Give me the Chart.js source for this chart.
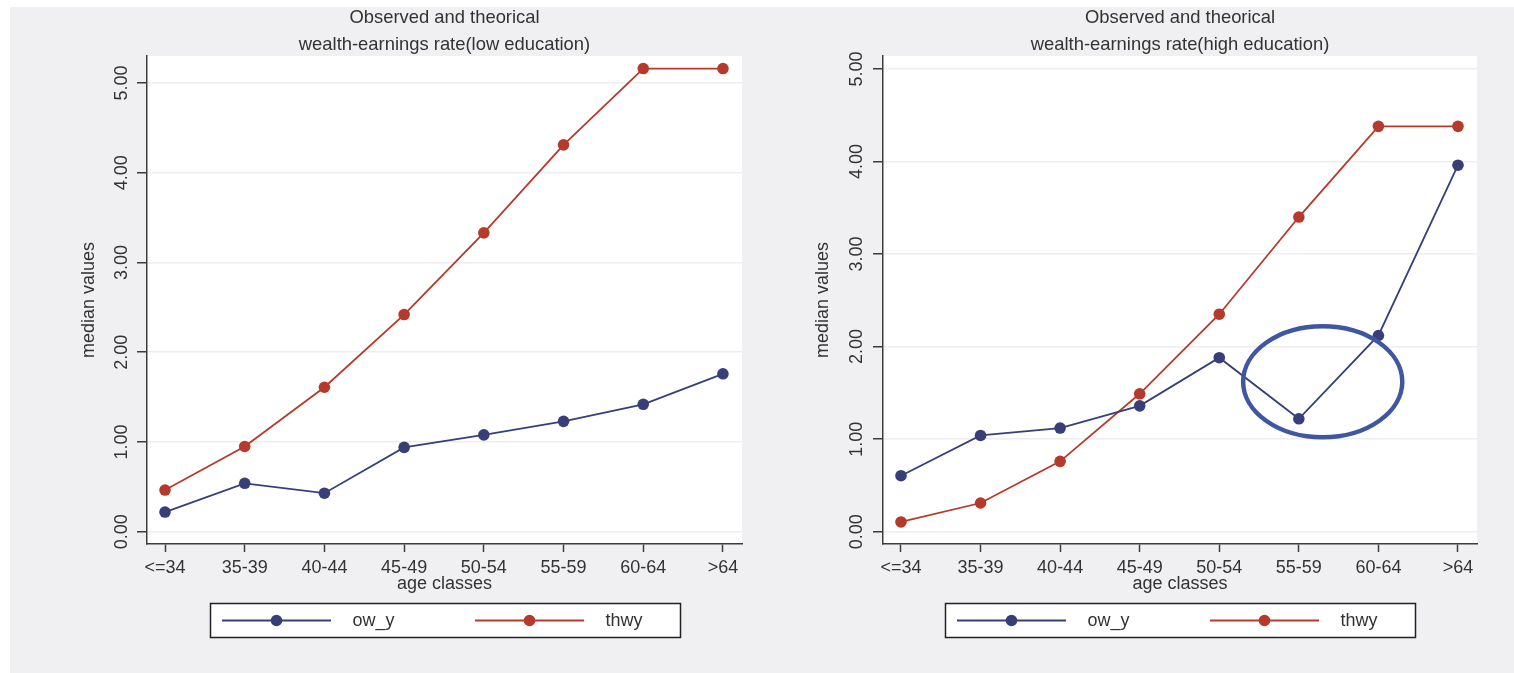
<!DOCTYPE html>
<html>
<head>
<meta charset="utf-8">
<script src="https://cdn.jsdelivr.net/npm/chart.js@4/dist/chart.umd.min.js"></script>
<style>
  html, body { margin: 0; padding: 0; background: #ffffff; width: 1514px; height: 673px; overflow: hidden; }
  #bg { position: absolute; left: 10px; top: 7px; width: 1504px; height: 666px; background: #f0f0f3; }
  canvas { position: absolute; top: 0; }
  #c1 { left: 0; }
  #c2 { left: 757px; }
</style>
</head>
<body>
<div id="bg"></div>
<canvas id="c1" width="757" height="673"></canvas>
<canvas id="c2" width="757" height="673"></canvas>
<script>
// ---- data ----
const ageClasses = ['<=34', '35-39', '40-44', '45-49', '50-54', '55-59', '60-64', '>64'];
const lowOwY   = [0.22, 0.54, 0.43, 0.94, 1.08, 1.23, 1.42, 1.76];
const lowThwy  = [0.465, 0.95, 1.61, 2.42, 3.33, 4.31, 5.16, 5.16];
const highOwY  = [0.605, 1.04, 1.12, 1.36, 1.88, 1.22, 2.12, 3.96];
const highThwy = [0.105, 0.31, 0.76, 1.49, 2.35, 3.40, 4.38, 4.38];
const yTickValues = [0, 1, 2, 3, 4, 5];
const seriesNames = ['ow_y', 'thwy'];
const titleLow  = ['Observed and theorical', 'wealth-earnings rate(low education)'];
const titleHigh = ['Observed and theorical', 'wealth-earnings rate(high education)'];
const xTitle = 'age classes';
const yTitle = 'median values';
// highlighted region on the high-education chart (data units)
const highlight = { x: 5.3, y: 1.62, rx: 1.0, ry: 0.6 };

// ---- styles ----
const BLUE = '#373f78';
const RED = '#b53a2b';
const RING = '#3f57a0';
const TEXT = '#333333';
const AXIS = '#3c3c3c';
const GRID = '#eeeef1';
const FONT = 'Liberation Sans, Arial, sans-serif';

const toPts = arr => arr.map((v, i) => ({ x: i, y: v }));

const plotBg = {
  id: 'plotBg',
  beforeDraw(chart) {
    const { ctx, chartArea: a } = chart;
    ctx.save();
    ctx.fillStyle = '#ffffff';
    ctx.fillRect(a.left, a.top, a.right - a.left, a.bottom - a.top);
    ctx.restore();
  }
};

const boxLegend = {
  id: 'boxLegend',
  afterDraw(chart) {
    const { ctx, chartArea: a } = chart;
    const w = 470, h = 34;
    const cx = (a.left + a.right) / 2;
    const left = Math.round(cx - w / 2) + 0.5;
    const top = a.bottom + 59.5;
    ctx.save();
    ctx.fillStyle = '#ffffff';
    ctx.fillRect(left, top, w, h);
    ctx.strokeStyle = '#222222';
    ctx.lineWidth = 1.5;
    ctx.strokeRect(left, top, w, h);
    const cy = top + h / 2;
    const items = [
      { off: 0, ds: chart.data.datasets[0] },
      { off: 253, ds: chart.data.datasets[1] }
    ];
    items.forEach(it => {
      const col = it.ds.borderColor;
      ctx.strokeStyle = col;
      ctx.lineWidth = 1.8;
      ctx.beginPath();
      ctx.moveTo(left + 11.5 + it.off, cy);
      ctx.lineTo(left + 120.5 + it.off, cy);
      ctx.stroke();
      ctx.fillStyle = col;
      ctx.beginPath();
      ctx.arc(left + 66 + it.off, cy, 5.8, 0, Math.PI * 2);
      ctx.fill();
      ctx.fillStyle = TEXT;
      ctx.font = '18px ' + FONT;
      ctx.textBaseline = 'middle';
      ctx.textAlign = 'left';
      ctx.fillText(it.ds.label, left + 142 + it.off, cy + 1);
    });
    ctx.restore();
  }
};

const ring = {
  id: 'ring',
  afterDatasetsDraw(chart, args, opts) {
    if (!opts || !opts.show) return;
    const { ctx, scales: { x, y } } = chart;
    const cx = x.getPixelForValue(highlight.x);
    const cy = y.getPixelForValue(highlight.y);
    const rx = x.getPixelForValue(highlight.x + highlight.rx) - cx;
    const ry = cy - y.getPixelForValue(highlight.y + highlight.ry);
    ctx.save();
    ctx.strokeStyle = RING;
    ctx.lineWidth = 4.5;
    ctx.beginPath();
    ctx.ellipse(cx, cy, rx, ry, 0, 0, Math.PI * 2);
    ctx.stroke();
    ctx.restore();
  }
};

function makeChart(id, cfg) {
  return new Chart(document.getElementById(id), {
    type: 'line',
    data: {
      datasets: [
        { label: seriesNames[0], data: toPts(cfg.a), borderColor: BLUE, backgroundColor: BLUE,
          pointBackgroundColor: BLUE, borderWidth: 1.8, pointRadius: 5.8, pointBorderWidth: 0, tension: 0 },
        { label: seriesNames[1], data: toPts(cfg.b), borderColor: RED, backgroundColor: RED,
          pointBackgroundColor: RED, borderWidth: 1.8, pointRadius: 5.8, pointBorderWidth: 0, tension: 0 }
      ]
    },
    options: {
      responsive: false,
      animation: false,
      devicePixelRatio: 1,
      layout: { padding: { left: 0, right: cfg.padRight, top: 0, bottom: 69 } },
      plugins: {
        legend: { display: false },
        tooltip: { enabled: false },
        title: {
          display: true, text: cfg.title, color: TEXT, fullSize: false,
          font: { family: FONT, size: 18.4, weight: 'normal', lineHeight: 27 / 18.4 },
          padding: { top: 4.5, bottom: -2.5 }
        },
        ring: { show: !!cfg.ring }
      },
      scales: {
        x: {
          type: 'linear', min: -0.226, max: 7.239,
          afterBuildTicks: s => { s.ticks = ageClasses.map((_, i) => ({ value: i })); },
          afterFit: s => { s.height = 60; },
          ticks: { autoSkip: false, color: TEXT, padding: 5,
                   font: { family: FONT, size: 18 }, callback: v => ageClasses[v] },
          grid: { drawOnChartArea: false, drawTicks: true, tickLength: 8, tickColor: AXIS, tickWidth: 1.5 },
          border: { display: true, color: AXIS, width: 1.5 },
          title: { display: true, text: xTitle, color: TEXT, font: { family: FONT, size: 18 },
                   padding: { top: 0, bottom: 8.8 } }
        },
        y: {
          type: 'linear', min: cfg.ymin, max: cfg.ymax,
          afterBuildTicks: s => { s.ticks = yTickValues.map(v => ({ value: v })); },
          afterFit: s => { s.width = cfg.yWidth; },
          ticks: { color: TEXT, minRotation: 90, maxRotation: 90, crossAlign: 'center',
                   padding: cfg.yTickPad, font: { family: FONT, size: 18 },
                   callback: v => Number(v).toFixed(2) },
          grid: { color: GRID, lineWidth: 1.5, drawTicks: true, tickLength: 10, tickColor: AXIS, tickWidth: 1.5 },
          border: { display: true, color: AXIS, width: 1.5 },
          title: { display: true, text: yTitle, color: TEXT, font: { family: FONT, size: 18 },
                   padding: { top: cfg.yTitlePad, bottom: 0 } }
        }
      }
    },
    plugins: [plotBg, boxLegend, ring]
  });
}

makeChart('c1', { a: lowOwY, b: lowThwy, title: titleLow, ymin: -0.136, ymax: 5.30,
                  yWidth: 147, padRight: 15, yTickPad: -2.5, yTitlePad: 78, ring: false });
makeChart('c2', { a: highOwY, b: highThwy, title: titleHigh, ymin: -0.133, ymax: 5.14,
                  yWidth: 126, padRight: 37, yTickPad: -2, yTitlePad: 55.6, ring: true });
</script>
</body>
</html>
